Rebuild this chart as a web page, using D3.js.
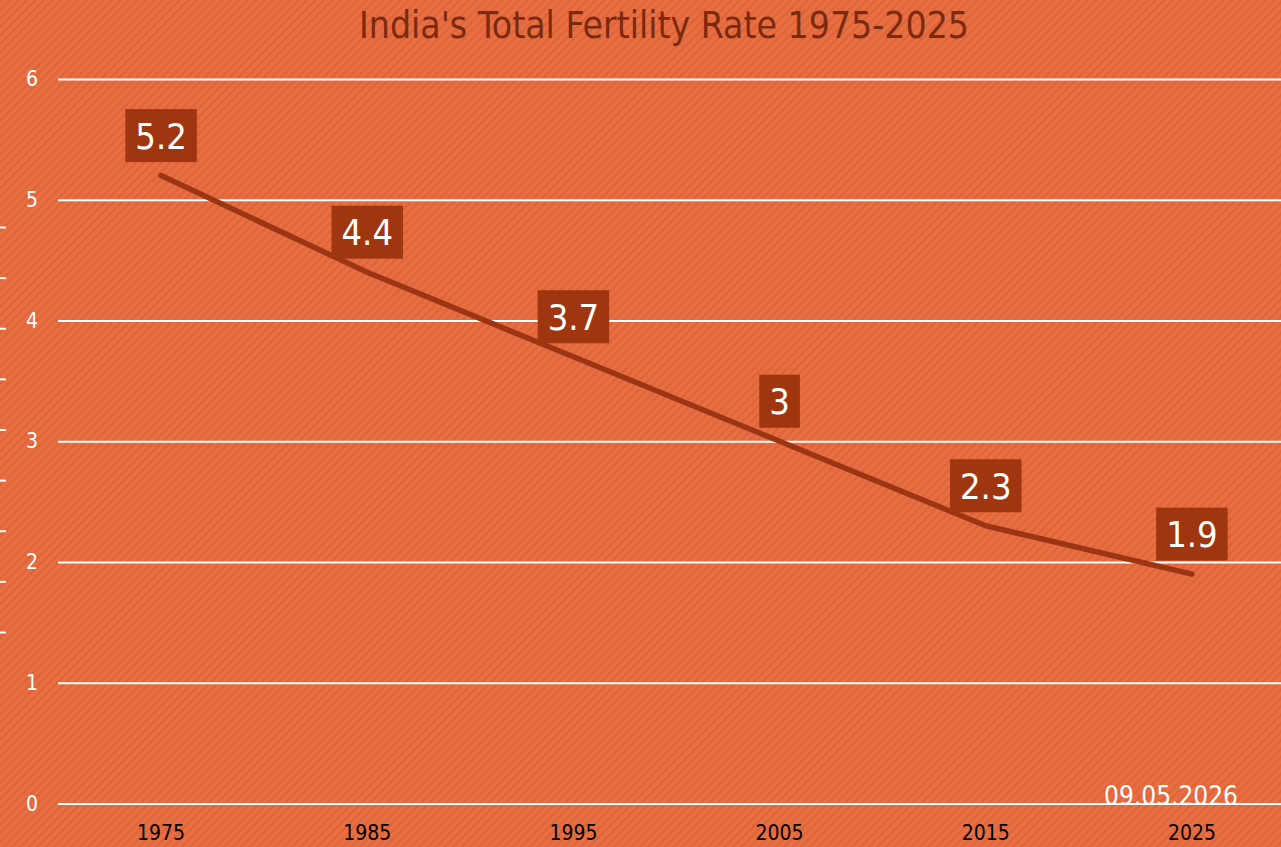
<!DOCTYPE html>
<html>
<head>
<meta charset="utf-8">
<script src="https://cdn.jsdelivr.net/npm/d3@7"></script>
<style>
  body { margin: 0; background: #e86e42; overflow: hidden; }
  svg { display: block; }
  text { font-family: "DejaVu Sans Condensed", "DejaVu Sans", sans-serif; }
</style>
</head>
<body>
<div id="chart-container"></div>
<script>
// total fertility rate, India
const years = ["1975", "1985", "1995", "2005", "2015", "2025"];
const tfr = [5.2, 4.4, 3.7, 3, 2.3, 1.9];
const yTicks = [0, 1, 2, 3, 4, 5, 6];
const edgeTicks = [0, 1, 2, 3, 4, 5, 6, 7, 8];
const title = "India's Total Fertility Rate 1975-2025";
const stamp = "09.05.2026";

const width = 1281;
const height = 847;
const margin = ({ top: 79, right: -14, bottom: 43.5, left: 58 });

const svg = d3.select("#chart-container")
    .append("svg")
    .attr("width", width)
    .attr("height", height);

// striped background
const defs = svg.append("defs");
const pat = defs.append("pattern")
    .attr("id", "stripes")
    .attr("patternUnits", "userSpaceOnUse")
    .attr("width", 6)
    .attr("height", 6)
    .attr("patternTransform", "rotate(-45)");
pat.append("rect").attr("width", 6).attr("height", 6).attr("fill", "#e86f43");
pat.append("rect").attr("width", 6).attr("height", 2.5).attr("fill", "#df6539");

svg.append("rect")
    .attr("width", width)
    .attr("height", height)
    .attr("fill", "url(#stripes)");

const x = d3.scaleBand()
    .domain(years)
    .range([margin.left, width - margin.right]);

const y = d3.scaleLinear()
    .domain([0, 6])
    .range([height - margin.bottom, margin.top]);

// gridlines + y labels
const yAxis = g => g
    .attr("transform", `translate(${margin.left},0)`)
    .call(d3.axisLeft(y).tickValues(yTicks).tickSize(-(width - margin.left)).tickPadding(20).tickFormat(d3.format("d")))
    .call(g => g.select(".domain").remove())
    .call(g => g.selectAll(".tick line").attr("stroke", "#fff").attr("stroke-width", 2))
    .call(g => g.selectAll(".tick text")
        .attr("fill", "#fff")
        .attr("font-size", 21)
        .attr("font-family", "DejaVu Sans Condensed, DejaVu Sans, sans-serif"));

svg.append("g").call(yAxis);

// stray little ticks on the left edge
const edge = d3.scaleLinear()
    .domain([0, 8])
    .range([227, 632]);

svg.append("g")
    .call(d3.axisRight(edge).tickValues(edgeTicks).tickSize(6).tickFormat(""))
    .call(g => g.select(".domain").remove())
    .call(g => g.selectAll(".tick line").attr("stroke", "#fff").attr("stroke-width", 2));

const xAxis = g => g
    .attr("transform", `translate(0,${height - margin.bottom})`)
    .call(d3.axisBottom(x).tickSize(0).tickPadding(22))
    .call(g => g.select(".domain").remove())
    .call(g => g.selectAll(".tick text")
        .attr("fill", "#000")
        .attr("font-size", 21)
        .attr("font-family", "DejaVu Sans Condensed, DejaVu Sans, sans-serif"));

svg.append("g").call(xAxis);

const data = years.map((yr, i) => ({ year: yr, value: tfr[i] }));
const cx = d => x(d.year) + x.bandwidth() / 2;

const line = d3.line()
    .x(cx)
    .y(d => y(d.value));

svg.append("path")
    .datum(data)
    .attr("fill", "none")
    .attr("stroke", "#9c3513")
    .attr("stroke-width", 5.5)
    .attr("stroke-linejoin", "round")
    .attr("stroke-linecap", "round")
    .attr("d", line);

// value labels in boxes
const labels = svg.selectAll(".lbl")
    .data(data)
    .enter().append("g")
    .attr("class", "lbl")
    .attr("transform", d => `translate(${cx(d)},${y(d.value) - 40})`);

labels.append("text")
    .attr("text-anchor", "middle")
    .attr("dy", "0.36em")
    .attr("fill", "#fff")
    .attr("font-size", 36)
    .text(d => d.value);

labels.each(function () {
    const g = d3.select(this);
    const bb = g.select("text").node().getBBox();
    g.insert("rect", "text")
        .attr("x", bb.x - 10)
        .attr("y", -26.5)
        .attr("width", bb.width + 20)
        .attr("height", 53)
        .attr("fill", "#9f360f");
});

svg.append("text")
    .attr("x", 664)
    .attr("y", 38)
    .attr("text-anchor", "middle")
    .attr("fill", "#7a2a0e")
    .attr("font-size", 37)
    .text(title);

svg.append("text")
    .attr("x", 1238)
    .attr("y", 805)
    .attr("text-anchor", "end")
    .attr("fill", "#fff")
    .attr("font-size", 26)
    .text(stamp);
</script>
</body>
</html>
